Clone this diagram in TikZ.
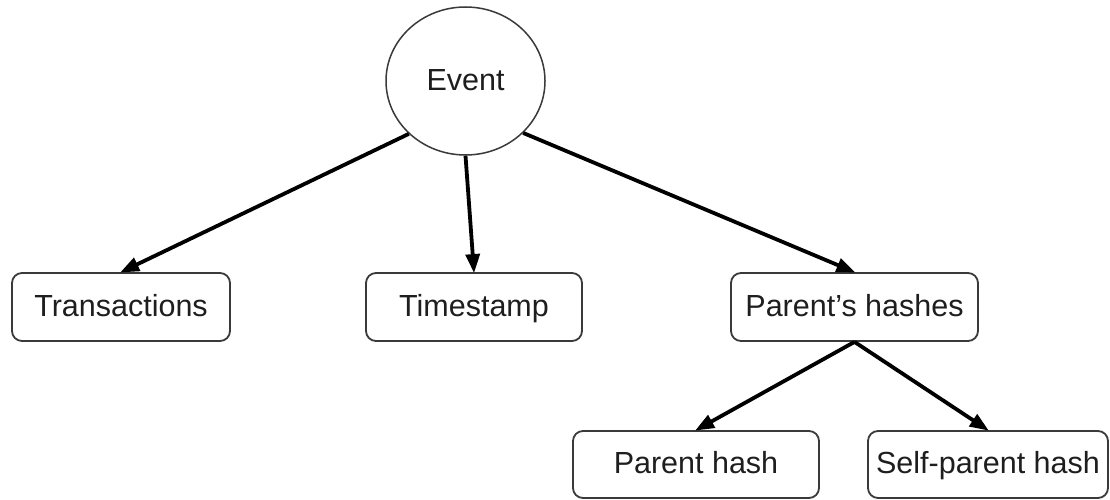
\documentclass[tikz,border=0pt]{standalone}
\usepackage{fontspec}
\setmainfont{Liberation Sans}
\usetikzlibrary{shapes.geometric,arrows.meta}
\definecolor{edgegray}{HTML}{3A3A3A}
\definecolor{inkgray}{HTML}{1E1E1E}
\tikzset{
  fieldbox/.style={draw=edgegray, line width=1.8pt, rounded corners=10pt, fill=white,
    minimum height=68pt, inner sep=0pt, text=inkgray,
    text height=22pt, text depth=4pt,
    font=\fontsize{30.5}{33}\selectfont},
  rootnode/.style={draw=edgegray, line width=1.5pt, ellipse, fill=white,
    minimum width=159pt, minimum height=148pt, inner sep=0pt, text=inkgray,
    text height=22pt, text depth=2pt,
    font=\fontsize{30.5}{33}\selectfont},
  link/.style={line width=3.8pt, black, -{Triangle[length=19pt,width=14pt]}, shorten >=-1pt}
}
\begin{document}
\begin{tikzpicture}[x=1pt,y=1pt]
  \useasboundingbox[fill=white] (0,0) rectangle (1110,499);
  % root of the tree
  \node[rootnode] (event) at (465.5,418) {Event};
  % fields of an event
  \node[fieldbox, minimum width=218pt] (tx)   at (121,192) {Transactions};
  \node[fieldbox, minimum width=216pt] (ts)   at (474,192) {Timestamp};
  \node[fieldbox, minimum width=247pt] (ph)   at (854.5,192) {Parent’s hashes};
  % the two hashes
  \node[fieldbox, minimum width=246pt, minimum height=67pt] (pa) at (696,34.5) {Parent hash};
  \node[fieldbox, minimum width=240pt, minimum height=67pt] (sp) at (988,34.5) {Self-parent hash};
  % connectors
  \draw[link] (event.-137) -- (tx.north);
  \draw[link] (event.south) -- (ts.north);
  \draw[link] (event.-42) -- (ph.north);
  \draw[link] (ph.south) -- (pa.north);
  \draw[link] (ph.south) -- (sp.north);
\end{tikzpicture}
\end{document}
